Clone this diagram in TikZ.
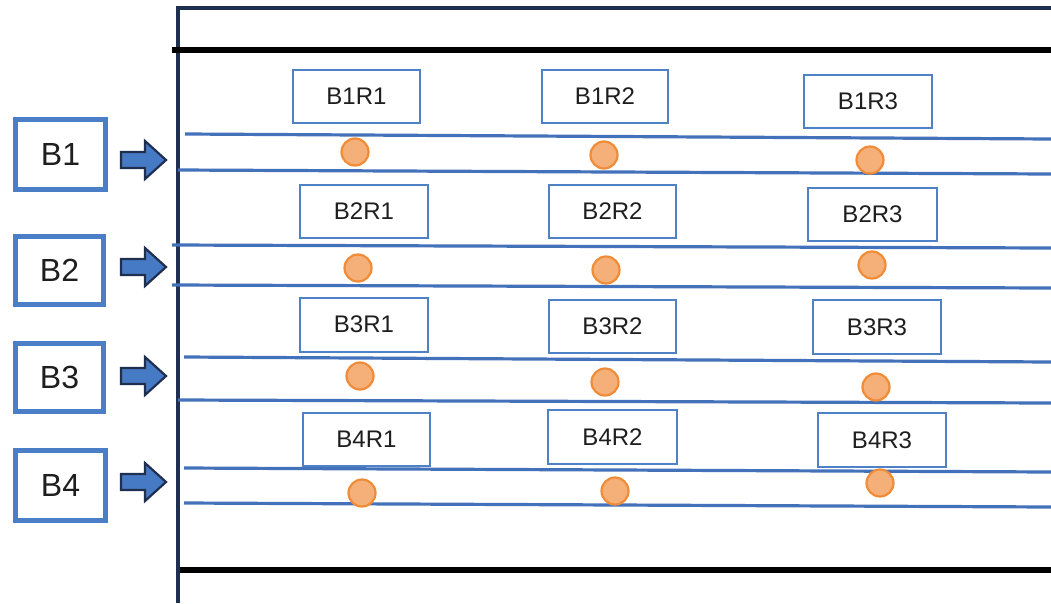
\documentclass[tikz,border=0pt]{standalone}
\usepackage{fontspec}
\setmainfont{Liberation Sans}
\definecolor{navyc}{RGB}{31,47,80}
\definecolor{lanec}{RGB}{68,114,186}
\definecolor{rboxc}{RGB}{79,129,199}
\definecolor{lboxc}{RGB}{74,126,199}
\definecolor{dotfill}{RGB}{244,176,120}
\definecolor{dotdraw}{RGB}{240,140,55}
\definecolor{arrowc}{RGB}{70,122,196}
\definecolor{textc}{RGB}{30,30,30}
\begin{document}
\begin{tikzpicture}[x=1pt,y=-1pt,
  navy/.style={draw=navyc},
  lane/.style={draw=lanec,line width=3.2pt},
  rbox/.style={draw=rboxc,line width=2pt,fill=white,inner sep=0pt,font=\fontsize{24}{26}\selectfont,text=textc},
  lbox/.style={draw=lboxc,line width=5pt,fill=white,inner sep=0pt,font=\fontsize{32}{34}\selectfont,text=textc},
  dot/.style={circle,fill=dotfill,draw=dotdraw,line width=2.2pt,minimum size=27pt,inner sep=0pt},
  barrow/.style={fill=arrowc,draw=navyc,line width=2.2pt,line join=miter}]
\useasboundingbox (0,0) rectangle (1051,603);
\fill[white] (0,0) rectangle (1051,603);
% frame
\draw[navy,line width=3.5pt] (1051,8) -- (178,8) -- (178,603);
\draw[black,line width=5.5pt] (172,50) -- (1051,50);
\draw[black,line width=5.5pt] (180,570) -- (1051,570);
% lanes
\draw[lane] (185,134) -- (1051,139);
\draw[lane] (178,170) -- (1051,174);
\draw[lane] (172,245) -- (1051,248);
\draw[lane] (172,285) -- (1051,288);
\draw[lane] (184,357) -- (1051,362);
\draw[lane] (178,400) -- (1051,403);
\draw[lane] (184,468) -- (1051,472);
\draw[lane] (184,503) -- (1051,507);
% row boxes
\node[rbox,minimum width=127pt,minimum height=53pt] (b1r1) at (356.5,96.5) {B1R1};
\node[rbox,minimum width=126pt,minimum height=53pt] (b1r2) at (605,96.5) {B1R2};
\node[rbox,minimum width=128pt,minimum height=53pt] (b1r3) at (868,101.5) {B1R3};
\node[rbox,minimum width=128pt,minimum height=53pt] (b2r1) at (364,211.5) {B2R1};
\node[rbox,minimum width=127pt,minimum height=53pt] (b2r2) at (612.5,211.5) {B2R2};
\node[rbox,minimum width=129pt,minimum height=53pt] (b2r3) at (872.5,214) {B2R3};
\node[rbox,minimum width=128pt,minimum height=54pt] (b3r1) at (364,324.5) {B3R1};
\node[rbox,minimum width=127pt,minimum height=53pt] (b3r2) at (612.5,326.5) {B3R2};
\node[rbox,minimum width=128pt,minimum height=54pt] (b3r3) at (877,327) {B3R3};
\node[rbox,minimum width=127pt,minimum height=53pt] (b4r1) at (366.5,439.5) {B4R1};
\node[rbox,minimum width=129pt,minimum height=54pt] (b4r2) at (612.5,437) {B4R2};
\node[rbox,minimum width=128pt,minimum height=54pt] (b4r3) at (882,440) {B4R3};
% dots
\node[dot] (d11) at (355,152) {};
\node[dot] (d12) at (604,155) {};
\node[dot] (d13) at (870,160) {};
\node[dot] (d21) at (358,268) {};
\node[dot] (d22) at (606,270) {};
\node[dot] (d23) at (872,265) {};
\node[dot] (d31) at (360,376) {};
\node[dot] (d32) at (605,382) {};
\node[dot] (d33) at (876,387) {};
\node[dot] (d41) at (362,493) {};
\node[dot] (d42) at (615,491) {};
\node[dot] (d43) at (880,483) {};
% left boxes
\node[lbox,minimum width=90pt,minimum height=70pt] (B1) at (60.5,154.5) {B1};
\node[lbox,minimum width=88pt,minimum height=68pt] (B2) at (59.5,270) {B2};
\node[lbox,minimum width=88pt,minimum height=68pt] (B3) at (59.5,377) {B3};
\node[lbox,minimum width=90pt,minimum height=70pt] (B4) at (60.5,485) {B4};
% block arrows
\foreach \y in {160,267,376,482}{
  \draw[barrow] (121,\y-8) -- (145,\y-8) -- (145,\y-19) -- (166,\y) -- (145,\y+19) -- (145,\y+8) -- (121,\y+8) -- cycle;
}
\end{tikzpicture}
\end{document}
